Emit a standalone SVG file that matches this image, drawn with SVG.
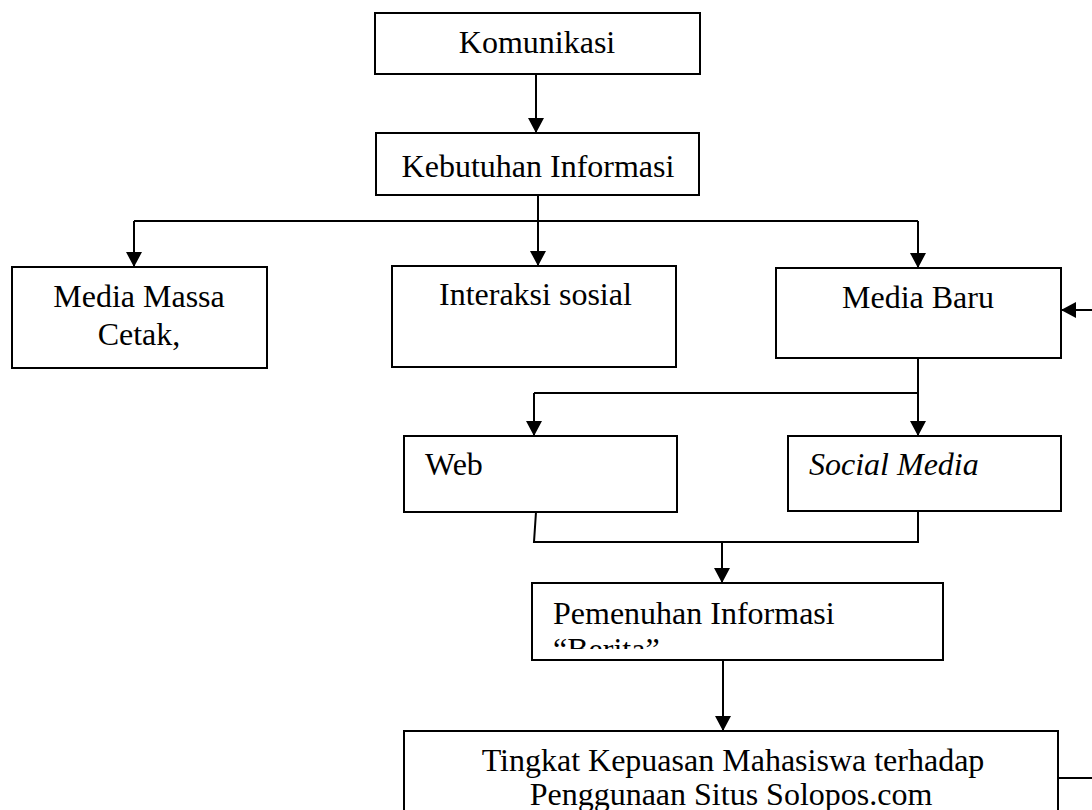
<svg xmlns="http://www.w3.org/2000/svg" width="1092" height="810" viewBox="0 0 1092 810">
<style>
.box{fill:#fff;stroke:#000;stroke-width:2}
.ln{fill:none;stroke:#000;stroke-width:2}
.t{font-family:"Liberation Serif","Times New Roman",serif;font-size:32px;fill:#000}
.c{text-anchor:middle}
.i{font-style:italic}
</style>
<defs>
<marker id="ah" markerUnits="userSpaceOnUse" markerWidth="16" markerHeight="16" refX="15" refY="8" orient="auto">
<path d="M0,0 L15,8 L0,16 z" fill="#000"/>
</marker>
<clipPath id="clipP"><rect x="533" y="584" width="409" height="65"/></clipPath>
</defs>
<rect width="1092" height="810" fill="#fff"/>
<g id="connectors">
<line class="ln" x1="536" y1="74" x2="536" y2="133" marker-end="url(#ah)"/>
<line class="ln" x1="538" y1="195" x2="538" y2="221"/>
<line class="ln" x1="134" y1="221" x2="918" y2="221"/>
<line class="ln" x1="134" y1="221" x2="134" y2="267" marker-end="url(#ah)"/>
<line class="ln" x1="538" y1="221" x2="538" y2="266" marker-end="url(#ah)"/>
<line class="ln" x1="918" y1="221" x2="918" y2="268" marker-end="url(#ah)"/>
<line class="ln" x1="1092" y1="310" x2="1061" y2="310" marker-end="url(#ah)"/>
<line class="ln" x1="918" y1="358" x2="918" y2="393"/>
<line class="ln" x1="534" y1="393" x2="918" y2="393"/>
<line class="ln" x1="534" y1="393" x2="534" y2="436" marker-end="url(#ah)"/>
<line class="ln" x1="918" y1="393" x2="918" y2="436" marker-end="url(#ah)"/>
<polyline class="ln" points="536,512 534,542 918,542 918,511"/>
<line class="ln" x1="722" y1="542" x2="722" y2="583" marker-end="url(#ah)"/>
<line class="ln" x1="723" y1="660" x2="723" y2="731" marker-end="url(#ah)"/>
<line class="ln" x1="1058" y1="778" x2="1092" y2="778"/>
</g>
<g id="komunikasi">
<rect class="box" x="375" y="13" width="325" height="61"/>
<text class="t c" x="537" y="53">Komunikasi</text>
</g>
<g id="kebutuhan">
<rect class="box" x="376" y="133" width="323" height="62"/>
<text class="t c" x="538" y="177">Kebutuhan Informasi</text>
</g>
<g id="media-massa">
<rect class="box" x="12" y="267" width="255" height="101"/>
<text class="t c" x="139" y="307">Media Massa</text>
<text class="t c" x="139" y="345">Cetak,</text>
</g>
<g id="interaksi">
<rect class="box" x="392" y="266" width="284" height="101"/>
<text class="t" x="439" y="305">Interaksi sosial</text>
</g>
<g id="media-baru">
<rect class="box" x="776" y="268" width="285" height="90"/>
<text class="t c" x="918" y="308">Media Baru</text>
</g>
<g id="web">
<rect class="box" x="404" y="436" width="273" height="76"/>
<text class="t" x="425" y="475">Web</text>
</g>
<g id="social-media">
<rect class="box" x="788" y="436" width="273" height="75"/>
<text class="t i" x="809" y="475">Social Media</text>
</g>
<g id="pemenuhan">
<rect class="box" x="532" y="583" width="411" height="77"/>
<g clip-path="url(#clipP)">
<text class="t" x="553" y="624">Pemenuhan Informasi</text>
<text class="t" x="553" y="660">“Berita”</text>
</g>
</g>
<g id="tingkat">
<rect class="box" x="404" y="731" width="654" height="90"/>
<text class="t c" x="733" y="771">Tingkat Kepuasan Mahasiswa terhadap</text>
<text class="t c" x="731" y="805">Penggunaan Situs Solopos.com</text>
</g>
</svg>
